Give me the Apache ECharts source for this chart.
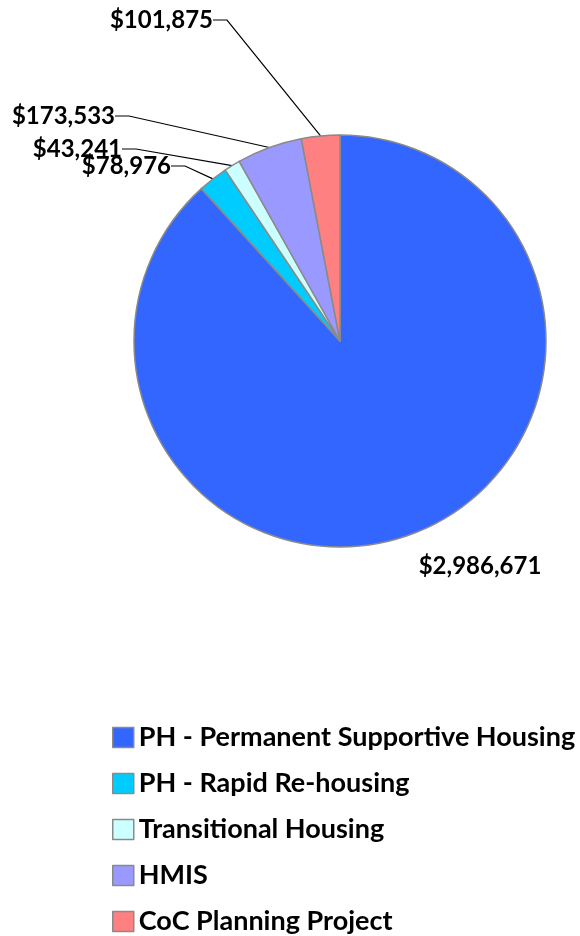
<!DOCTYPE html>
<html>
<head>
<meta charset="utf-8">
<script src="https://cdn.jsdelivr.net/npm/echarts@6/dist/echarts.min.js"></script>
<style>
  html, body { margin: 0; padding: 0; background: #fff; }
  #chart { width: 580px; height: 936px; }
</style>
</head>
<body>
<div id="chart"></div>
<script>
// Funding by project type
const categories = [
  'PH - Permanent Supportive Housing',
  'PH - Rapid Re-housing',
  'Transitional Housing',
  'HMIS',
  'CoC Planning Project'
];
const amounts = [2986671, 78976, 43241, 173533, 101875];
const sliceColors = ['#3366FF', '#00CCFF', '#CCFFFF', '#9999FF', '#FF8080'];

// Where each value label sits (x, y, horizontal alignment)
const labelSpots = [
  { x: 480, y: 566, align: 'center' },
  { x: 171, y: 166, align: 'right' },
  { x: 122, y: 149, align: 'right' },
  { x: 115, y: 116, align: 'right' },
  { x: 213, y: 20, align: 'right' }
];

const fontFamily = 'Lato, "Open Sans", sans-serif';
const money = v => '$' + v.toLocaleString('en-US');

const chart = echarts.init(document.getElementById('chart'), null, { renderer: 'canvas' });

chart.setOption({
  animation: false,
  color: sliceColors,
  legend: {
    orient: 'vertical',
    left: 107,
    top: 719,
    height: 300,
    itemWidth: 21,
    itemHeight: 20,
    itemGap: 19,
    icon: 'rect',
    itemStyle: { borderColor: '#8a8a8a', borderWidth: 1.5 },
    textStyle: {
      fontFamily, fontWeight: 'bold', fontSize: 27, color: '#000', lineHeight: 20
    },
    data: categories
  },
  series: [{
    type: 'pie',
    center: [340, 341],
    radius: 206,
    startAngle: 90,
    clockwise: true,
    avoidLabelOverlap: false,
    itemStyle: { borderColor: '#8a8a8a', borderWidth: 1.5 },
    label: {
      show: true,
      position: 'outside',
      formatter: p => money(p.value),
      fontFamily, fontWeight: 'bold', fontSize: 24, color: '#000'
    },
    labelLine: {
      show: true,
      length: 10,
      length2: 14,
      lineStyle: { color: '#000', width: 1.2 }
    },
    labelLayout: params => {
      const s = labelSpots[params.dataIndex];
      return { x: s.x, y: s.y, align: s.align, verticalAlign: 'middle' };
    },
    emphasis: { disabled: true },
    data: categories.map((name, i) => ({
      name,
      value: amounts[i],
      labelLine: { show: i !== 0 }
    }))
  }]
});
</script>
</body>
</html>
